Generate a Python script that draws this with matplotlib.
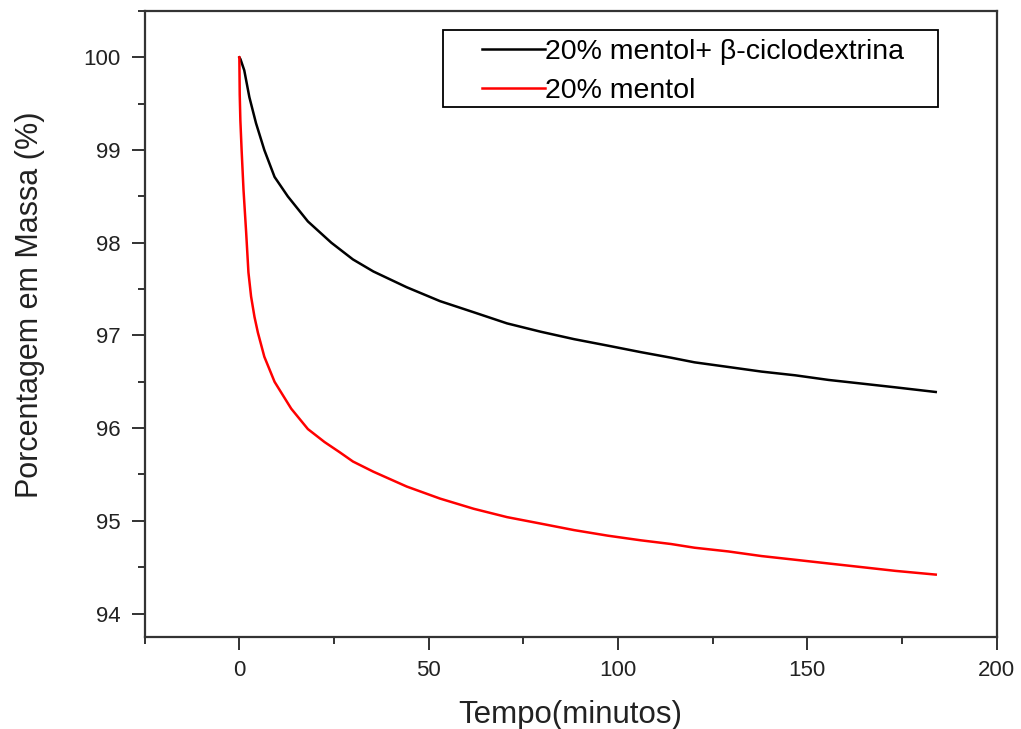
import numpy as np
import matplotlib.pyplot as plt
from matplotlib.ticker import MultipleLocator
from matplotlib.patches import Rectangle

plt.rcParams['font.family'] = ['Liberation Sans', 'DejaVu Sans']

# Tempo (minutos) e porcentagem em massa
tempo_cd = [0, 0.3, 1.3, 2.65, 4.4, 6.6, 9.3, 12.8, 18.1, 24.3, 30, 35.4, 44.2, 53,
            61.9, 70.7, 79.6, 88.4, 97.3, 106, 114, 120.2, 129.1, 137.9, 146.8,
            155.6, 164.5, 173.3, 183.9]
massa_cd = [100, 99.98, 99.86, 99.57, 99.29, 99.0, 98.71, 98.5, 98.23, 98.0, 97.82,
            97.69, 97.52, 97.37, 97.25, 97.13, 97.04, 96.96, 96.89, 96.82, 96.76,
            96.71, 96.66, 96.61, 96.57, 96.52, 96.48, 96.44, 96.39]

tempo_m = [0, 0.1, 0.27, 0.6, 1.1, 1.8, 2.4, 3.1, 4.0, 4.9, 6.6, 9.3, 13.7, 18.1, 22.5,
           26.5, 30, 35.4, 44.2, 53, 61.9, 70.7, 79.6, 88.4, 97.3, 106, 114, 120.2,
           129.1, 137.9, 146.8, 155.6, 164.5, 173.3, 183.9]
massa_m = [100, 99.6, 99.32, 99.0, 98.57, 98.11, 97.68, 97.42, 97.2, 97.03, 96.77, 96.5,
           96.21, 95.99, 95.85, 95.74, 95.64, 95.53, 95.37, 95.24, 95.13, 95.04,
           94.97, 94.90, 94.84, 94.79, 94.75, 94.71, 94.67, 94.62, 94.58, 94.54,
           94.50, 94.46, 94.42]

fig = plt.figure(figsize=(10.21, 7.29), dpi=100)
ax = fig.add_axes([0.1417, 0.1266, 0.8345, 0.8583])

ax.plot(tempo_cd, massa_cd, color='black', lw=1.8, label='20% mentol+ β-ciclodextrina')
ax.plot(tempo_m, massa_m, color='red', lw=1.8, label='20% mentol')

ax.set_xlim(-25, 200)
ax.set_ylim(93.75, 100.5)
ax.xaxis.set_major_locator(MultipleLocator(50))
ax.xaxis.set_minor_locator(MultipleLocator(25))
ax.yaxis.set_major_locator(MultipleLocator(1))
ax.yaxis.set_minor_locator(MultipleLocator(0.5))
ax.tick_params(which='both', direction='out', top=False, right=False, width=1.3,
               labelsize=16, colors='#222222')
ax.tick_params(which='major', length=9.5, pad=8)
ax.tick_params(which='minor', length=5)
ax.tick_params(axis='x', which='major', pad=7)
for s in ax.spines.values():
    s.set_linewidth(1.6)
    s.set_color('#333333')

ax.set_xlabel('Tempo(minutos)', fontsize=22.5, color='#222222', labelpad=14)
ax.set_ylabel('Porcentagem em Massa (%)', fontsize=22, color='#222222')
ax.yaxis.set_label_coords(-0.117, 0.53)

# caixa da legenda desenhada à parte
ax.add_patch(Rectangle((0.350, 0.847), 0.581, 0.1226, transform=ax.transAxes,
                       fill=False, edgecolor='black', lw=1.3, zorder=5))
ax.legend(loc='upper left', bbox_to_anchor=(0.396, 0.955), fontsize=20.5,
          frameon=False, handlelength=2.2, handletextpad=0.0, borderpad=0,
          labelspacing=0.45, borderaxespad=0)

fig.savefig('out.png', dpi=100)
